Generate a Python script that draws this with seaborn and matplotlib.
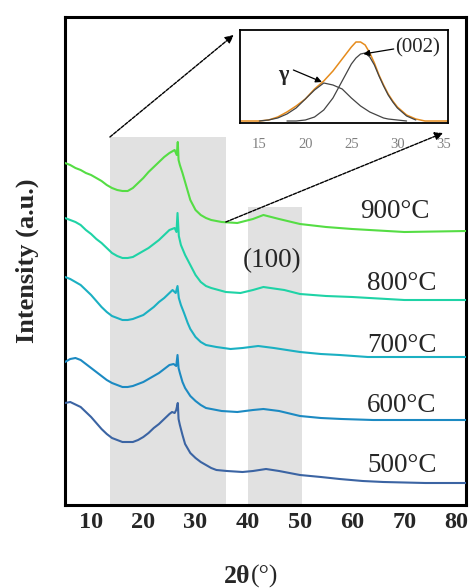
import matplotlib
matplotlib.use("Agg")
import matplotlib.pyplot as plt
import numpy as np
import pandas as pd
import seaborn as sns

# ---------------- data ----------------
temps = ["500°C", "600°C", "700°C", "800°C", "900°C"]
colors = ["#3b64a3", "#1c8ac2", "#1bb0c2", "#1fd3a6", "#55dd44"]

x_500 = [5, 6, 8, 9, 10, 11, 12, 13, 14, 15, 16, 17, 18, 19, 20, 21, 22, 23, 24, 25, 25.5, 26, 26.3, 26.6, 26.75, 27, 27.5, 28, 29, 30, 31, 32, 33, 34, 36, 39, 41, 43.5, 46, 50, 54, 57.6, 62, 66, 74, 82]
y_500 = [102, 103, 98, 93, 88, 82, 76, 71, 67, 65, 63, 63, 63, 65, 68, 72, 77, 81, 86, 91, 93, 92, 95, 102, 86, 80, 70, 61, 52, 47, 43, 40, 37, 35, 34, 33, 34, 36, 34, 30, 28, 26, 24, 23, 22, 22]

x_600 = [5, 6, 7, 8, 9, 10, 11, 12, 13, 14, 15, 16, 17, 18, 19, 20, 21, 22, 23, 24, 25, 25.8, 26.3, 26.55, 26.75, 27, 27.5, 28, 29, 30, 31, 32, 33, 35, 38, 41, 43, 46, 50, 54, 58, 64, 82]
y_600 = [143, 146, 147, 145, 141, 137, 133, 129, 125, 122, 120, 118, 118, 119, 121, 123, 126, 129, 132, 136, 140, 141, 139, 150, 137, 132, 123, 117, 109, 104, 100, 97, 96, 94, 93, 95, 96, 94, 89, 87, 86, 85, 85]

x_700 = [5, 6, 7, 8, 9, 10, 11, 12, 13, 14, 15, 16, 17, 18, 19, 20, 21, 22, 23, 24, 25, 25.6, 26.2, 26.55, 26.8, 27.2, 27.8, 28.5, 29, 30, 31, 32, 34, 36.7, 39, 42, 45, 50, 54, 57.6, 63, 82]
y_700 = [228, 226, 223, 220, 215, 210, 204, 198, 193, 189, 187, 185, 185, 186, 188, 190, 194, 198, 203, 207, 212, 215, 212, 219, 207, 200, 192, 182, 176, 168, 163, 160, 158, 156, 157, 159, 157, 153, 151, 150, 148, 148]

x_800 = [5, 6, 7, 8, 9, 10, 11, 12, 13, 14, 15, 16, 17, 18, 19, 20, 21, 22, 23, 24, 25, 26, 26.35, 26.55, 26.8, 27.2, 28, 29, 30, 31, 32, 33, 35.8, 38.6, 41, 43, 47, 50, 55, 60, 70, 82]
y_800 = [287, 285, 283, 280, 275, 271, 266, 262, 257, 252, 249, 247, 247, 248, 251, 254, 257, 261, 265, 270, 275, 277, 273, 292, 269, 260, 250, 240, 230, 223, 219, 217, 213, 212, 215, 218, 215, 211, 209, 208, 205, 205]

x_900 = [5, 6, 7, 8, 9, 10, 11, 12, 13, 14, 15, 16, 17, 18, 19, 20, 21, 22, 23, 24, 25, 26, 26.4, 26.6, 26.75, 27, 27.5, 28, 29, 30, 31, 32, 33, 35, 38, 41, 43, 46, 50, 55, 60, 70, 82]
y_900 = [342, 340, 337, 335, 332, 330, 327, 324, 320, 317, 315, 314, 314, 317, 322, 327, 333, 338, 343, 348, 352, 355, 350, 363, 345, 340, 332, 323, 305, 295, 290, 287, 285, 283, 282, 286, 290, 286, 281, 278, 276, 273, 274]

# inset (peak fitting of the 14-36° region)
fit_x = [13, 15, 16, 17, 18, 19, 20, 21, 22, 23, 24, 25, 25.5, 26, 26.5, 27, 27.5, 28, 28.5, 29, 29.5, 30, 31, 32, 33, 35.5]
fit_total = [0, 0, 1, 4, 9, 15, 22, 32, 40, 50, 62, 74, 79, 79, 76, 68, 58, 46, 36, 27, 20, 14, 6, 2, 0, 0]
gamma_x = [15, 16, 17, 18, 19, 20, 21, 22, 23, 24, 25, 25.5, 26, 26.5, 27, 27.5, 28, 28.5, 29, 29.5, 30, 31]
gamma_y = [0, 1, 3, 7, 13, 22, 31, 38, 36, 32, 23, 19, 15, 12, 9, 7, 5, 3, 2, 1.5, 1, 0]
c002_x = [18, 19, 20, 21, 22, 23, 24, 25, 25.5, 26, 26.5, 27, 27.5, 28, 28.5, 29, 29.5, 30, 31, 32]
c002_y = [0, 0, 1, 4, 11, 23, 40, 57, 63, 67, 68, 64, 56, 45, 35, 26, 19, 13, 5, 1]

shade_ranges = [(13.7, 35.8, 368), (40.0, 50.3, 298)]
xticks_main = [10, 20, 30, 40, 50, 60, 70, 80]
xticks_inset = [15, 20, 25, 30, 35]

# ---------------- build ----------------
sns.set_style("white")
plt.rcParams["font.family"] = ["Liberation Serif", "DejaVu Serif"]

frames = []
for t, xs, ys in zip(temps, [x_500, x_600, x_700, x_800, x_900],
                     [y_500, y_600, y_700, y_800, y_900]):
    frames.append(pd.DataFrame({"two_theta": xs, "intensity": ys, "temp": t}))
df = pd.concat(frames, ignore_index=True)

fig = plt.figure(figsize=(4.7, 5.88), dpi=100)
ax = fig.add_axes([65 / 470, 1 - 505 / 588, 401 / 470, 488 / 588])

YMAX = 488
for x0, x1, top in shade_ranges:
    ax.axvspan(x0, x1, ymin=0, ymax=top / YMAX, color="#e1e1e1", lw=0, zorder=0)

sns.lineplot(data=df, x="two_theta", y="intensity", hue="temp",
             palette=dict(zip(temps, colors)), estimator=None, sort=False,
             linewidth=1.5, legend=False, ax=ax, zorder=3)

ax.set_xlim(5.2, 81.8)
ax.set_ylim(0, YMAX)
ax.set_xticks(xticks_main)
ax.set_xticks(np.arange(5, 82, 5), minor=True)
ax.set_yticks([])
ax.tick_params(axis="x", which="major", direction="in", length=6, width=1.6,
               labelsize=17.5, pad=5, top=False)
ax.tick_params(axis="x", which="minor", direction="in", length=3, width=1.4, top=False)
for lab in ax.get_xticklabels():
    lab.set_fontweight("bold")
for sp in ax.spines.values():
    sp.set_linewidth(2.2)
    sp.set_color("black")
ax.set_xlabel("")
ax.set_ylabel("")

fig.text(27 / 470, 1 - 261 / 588, "Intensity (a.u.)", rotation=90, ha="center",
         va="center", fontsize=19, fontweight="bold")
fig.text(250 / 470, 1 - 583 / 588, "2θ", ha="right", va="baseline",
         fontsize=18.5, fontweight="bold")
fig.text(251 / 470, 1 - 583 / 588, "(°)", ha="left", va="baseline", fontsize=18.5)

label_pos = {"900°C": (68.2, 293), "800°C": (69.5, 222), "700°C": (69.5, 160),
             "600°C": (69.5, 100), "500°C": (69.5, 40)}
for t in temps:
    xx, yy = label_pos[t]
    ax.text(xx, yy, t, ha="center", va="center", fontsize=19.5, zorder=5)
ax.text(44.7, 244, "(100)", ha="center", va="center", fontsize=19.5, zorder=5)

# zoom arrows
arrow_kw = dict(arrowstyle="-|>", color="black", lw=1.0, linestyle=(0, (2.5, 1)),
                mutation_scale=12, shrinkA=0, shrinkB=0)
ax.annotate("", xy=(37.3, 470), xytext=(13.6, 368), arrowprops=arrow_kw,
            annotation_clip=False, zorder=6)
ax.annotate("", xy=(77.4, 372), xytext=(35.8, 283), arrowprops=arrow_kw,
            annotation_clip=False, zorder=6)

# ---------------- inset ----------------
axi = fig.add_axes([240 / 470, 1 - 123 / 588, 208 / 470, 93 / 588])
sns.lineplot(x=fit_x, y=fit_total, color="#e58b1c", linewidth=1.1, ax=axi,
             estimator=None, sort=False)
sns.lineplot(x=gamma_x, y=gamma_y, color="#444444", linewidth=0.9, ax=axi,
             estimator=None, sort=False)
sns.lineplot(x=c002_x, y=c002_y, color="#444444", linewidth=0.9, ax=axi,
             estimator=None, sort=False)
axi.set_xlim(12.9, 35.5)
axi.set_ylim(-2, 91)
axi.set_xticks(xticks_inset)
axi.set_yticks([])
axi.tick_params(axis="x", length=0, labelsize=10.5, labelcolor="#808080", pad=11)
for sp in axi.spines.values():
    sp.set_linewidth(1.3)
    sp.set_color("black")
axi.set_xlabel("")
axi.set_ylabel("")
axi.text(17.6, 46, "γ", ha="center", va="center", fontsize=16, fontweight="bold")
axi.text(32.2, 73, "(002)", ha="center", va="center", fontsize=15)
ak = dict(arrowstyle="-|>", color="black", lw=0.9, mutation_scale=9,
          shrinkA=0, shrinkB=0)
axi.annotate("", xy=(21.8, 39), xytext=(18.7, 51), arrowprops=ak)
axi.annotate("", xy=(26.3, 67), xytext=(29.6, 72), arrowprops=ak)

fig.savefig("out.png", dpi=100)
